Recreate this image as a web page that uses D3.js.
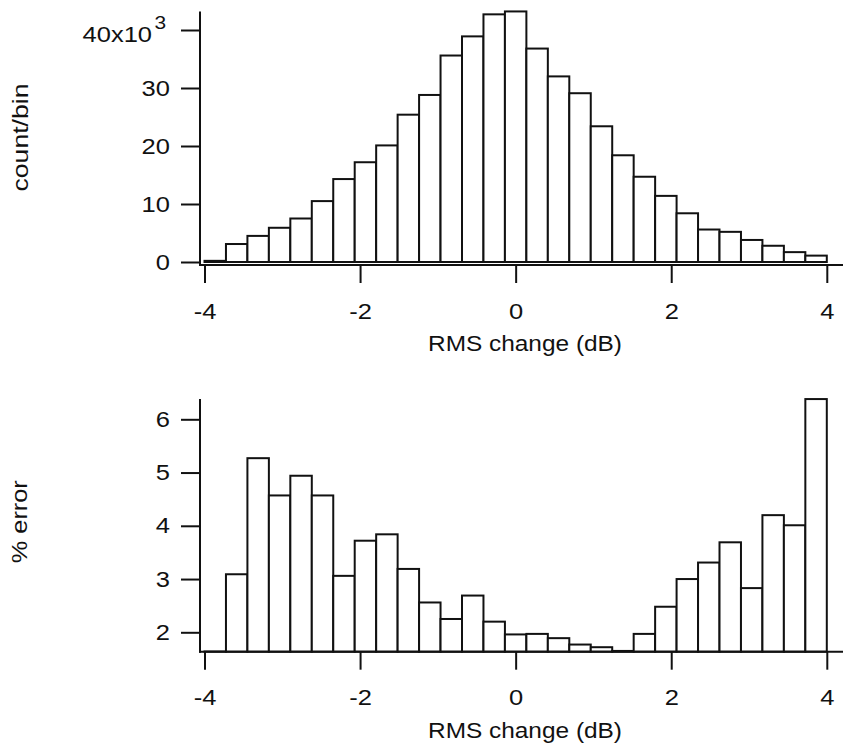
<!DOCTYPE html>
<html>
<head>
<meta charset="utf-8">
<script src="https://cdn.jsdelivr.net/npm/d3@7"></script>
<style>
	body { margin: 0; background: #fff; }
	svg { font-family: "Liberation Sans", Arial, Helvetica, sans-serif; }
	.tick text { font-size: 22px; fill: #111; }
	.axis-title { font-size: 22px; fill: #111; }
	.bar { fill: #fff; stroke: #111; stroke-width: 2px; }
</style>
</head>
<body>
<svg id="plot" width="843" height="749" viewBox="0 0 843 749"></svg>
<script>

// 29 bins from -4 to 4 dB
const binCount = 29;
const binLo = -4, binHi = 4;

// counts per bin (top panel)
const countValues = [200, 3100, 4500, 5900, 7500, 10500, 14300, 17200, 20100, 25400,
	28800, 35600, 38900, 42700, 43200, 36800, 32000, 29100, 23400, 18400,
	14700, 11400, 8400, 5600, 5200, 3800, 2800, 1700, 1100];

// percent error per bin (bottom panel)
const errorValues = [1.64, 3.09, 5.27, 4.57, 4.94, 4.57, 3.06, 3.72, 3.84, 3.19,
	2.56, 2.25, 2.69, 2.20, 1.96, 1.97, 1.89, 1.77, 1.72, 1.65,
	1.97, 2.48, 3.00, 3.31, 3.69, 2.83, 4.20, 4.01, 6.38];

const xTicks = [-4, -2, 0, 2, 4];
const countTicks = [0, 10000, 20000, 30000, 40000];
const errorTicks = [2, 3, 4, 5, 6];
const xTitle = "RMS change (dB)";

const svg = d3.select('#plot');
const binWidth = (binHi - binLo) / binCount;
const bins = d3.range(binCount).map(i => ({ x0: binLo + i * binWidth, x1: binLo + (i + 1) * binWidth }));

const x = d3.scaleLinear().domain([binLo, binHi]).range([204.5, 826.8]);

// the scanned lettering is a bit wider than Liberation Sans
const stretch = 1.16;
function widen(sel) {
	sel.each(function() {
		const t = d3.select(this);
		const tx = +(t.attr("x") || 0);
		t.attr("x", tx / stretch).attr("transform", "scale(" + stretch + ",1)");
	});
}

function drawPanel(opts) {
	const g = svg.append("g");
	const y = opts.y;

	// bars
	g.selectAll("rect.bar")
		.data(bins)
		.enter().append("rect")
			.attr("class", "bar")
			.attr("x", d => x(d.x0))
			.attr("width", d => x(d.x1) - x(d.x0))
			.attr("y", (d, i) => y(opts.values[i]))
			.attr("height", (d, i) => Math.max(0, y(opts.base) - y(opts.values[i])));

	const axisY = y(opts.base) + opts.xOffset;

	// x axis
	const xAxis = d3.axisBottom(x)
		.tickValues(xTicks)
		.tickSize(18)
		.tickPadding(20)
		.tickFormat(d => String(d));
	const xg = g.append("g")
		.attr("transform", "translate(0," + axisY + ")")
		.call(xAxis);
	xg.select(".domain").remove();
	xg.selectAll(".tick line").attr("stroke", "#111").attr("stroke-width", 2);
	widen(xg.selectAll(".tick text"));

	g.append("line")
		.attr("x1", 199).attr("x2", 843)
		.attr("y1", axisY).attr("y2", axisY)
		.attr("stroke", "#111").attr("stroke-width", 2);

	// y axis
	const yAxis = d3.axisLeft(y)
		.tickValues(opts.ticks)
		.tickSize(19)
		.tickPadding(11)
		.tickFormat(opts.format);
	const yg = g.append("g")
		.attr("transform", "translate(200,0)")
		.call(yAxis);
	yg.select(".domain").remove();
	yg.selectAll(".tick line").attr("stroke", "#111").attr("stroke-width", 2);

	g.append("line")
		.attr("x1", 200).attr("x2", 200)
		.attr("y1", y(opts.top)).attr("y2", axisY + 1)
		.attr("stroke", "#111").attr("stroke-width", 2);

	// titles
	g.append("text")
		.attr("class", "axis-title")
		.attr("text-anchor", "middle")
		.attr("x", 525)
		.attr("y", axisY + 86)
		.attr("textLength", 194)
		.attr("lengthAdjust", "spacingAndGlyphs")
		.text(xTitle);

	g.append("text")
		.attr("class", "axis-title")
		.attr("text-anchor", "middle")
		.attr("transform", "translate(" + opts.titleX + "," + opts.titleY + ") rotate(-90)")
		.attr("textLength", opts.titleLength)
		.attr("lengthAdjust", "spacingAndGlyphs")
		.text(opts.yTitle);

	return yg;
}

// top panel: counts
const yCount = d3.scaleLinear().domain([0, 40000]).range([262, 30]);
const topAxis = drawPanel({
	y: yCount,
	values: countValues,
	base: 0,
	top: d3.max(countValues),
	xOffset: 3,
	ticks: countTicks,
	format: d => d === 40000 ? "" : String(d / 1000),
	yTitle: "count/bin",
	titleX: 28,
	titleY: 137.5,
	titleLength: 108
});

// "40x10^3" label with superscript, sits a little lower than the tick
const lastTick = topAxis.selectAll(".tick").filter(d => d === 40000).select("text");
lastTick.attr("x", -34).attr("dy", "0.5em");
lastTick.append("tspan").text("40x10");
lastTick.append("tspan").attr("dx", "2").attr("dy", "-0.7em").style("font-size", "18px").text("3");
widen(topAxis.selectAll(".tick text"));

// bottom panel: % error
const yErr = d3.scaleLinear().domain([2, 6]).range([632.3, 419.3]);
const bottomAxis = drawPanel({
	y: yErr,
	values: errorValues,
	base: 1.636,
	top: d3.max(errorValues),
	xOffset: 0,
	ticks: errorTicks,
	format: d => String(d),
	yTitle: "% error",
	titleX: 27,
	titleY: 521.7,
	titleLength: 83
});
widen(bottomAxis.selectAll(".tick text"));

</script>
</body>
</html>
